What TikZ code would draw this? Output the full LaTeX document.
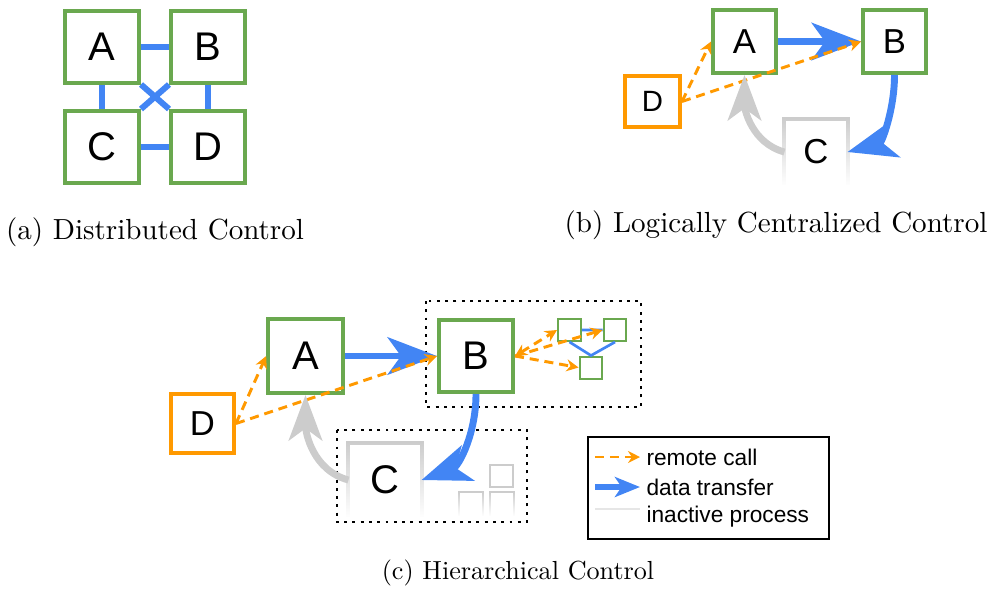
\documentclass[tikz,border=0pt]{standalone}
\usepackage{fontspec}
\setsansfont{Liberation Sans}
\usetikzlibrary{arrows.meta,fadings}
\definecolor{boxgreen}{RGB}{106,168,79}
\definecolor{flowblue}{RGB}{66,133,244}
\definecolor{callorange}{RGB}{255,153,0}
\definecolor{idlegray}{RGB}{204,204,204}
\tikzfading[name=fadedown, top color=transparent!0, middle color=transparent!25, bottom color=transparent!100]
\tikzset{
  calltip/.tip={Stealth[length=4.5pt,width=4.5pt]},
  box/.style={fill=white, inner sep=0pt},
  sz/.style 2 args={minimum width=#1, minimum height=#2},
  fs/.style={font=\sffamily\fontsize{#1}{#1}\selectfont},
  proc/.style={box, draw=boxgreen, line width=1.5pt},
  caller/.style={box, draw=callorange, line width=1.5pt},
  idle/.style={inner sep=0pt},
  tiny/.style={draw=boxgreen, line width=0.75pt, sz={8.6pt}{8.25pt}, inner sep=0pt},
  tinyidle/.style={draw=idlegray, line width=0.75pt, sz={8.6pt}{8.25pt}, inner sep=0pt},
  link/.style={draw=flowblue, line width=2.25pt},
  datamove/.style={draw=flowblue, line width=2.6pt, -{Stealth[length=18.5pt,width=14pt,inset=5pt]}},
  inactive/.style={draw=idlegray, line width=2.6pt, -{Stealth[length=17pt,width=12.5pt,inset=4.5pt]}},
  call/.style={draw=callorange, line width=1.1pt, dash pattern=on 3.4pt off 2.2pt, -calltip},
  idleline/.style={draw=idlegray, line width=1.5pt, path fading=fadedown},
  group/.style={draw=black, line width=1.1pt, dash pattern=on 1.1pt off 2pt},
  caption/.style={font=\fontsize{#1}{12}\selectfont},
  keytext/.style={anchor=west, inner sep=0pt, font=\sffamily\fontsize{8.5}{10}\selectfont}
}
% open box of an inactive process
\newcommand{\openbox}[2][idleline]{\draw[#1] (#2.south west) -- (#2.north west) -- (#2.north east) -- (#2.south east);}
\begin{document}
\begin{tikzpicture}[x=0.375pt, y=-0.375pt]
  \useasboundingbox (0,0) rectangle (987,588);

  % (a)
  \node[proc, sz={27.75pt}{27pt}, fs=15] (a1) at (102,46.5) {A};
  \node[proc, sz={27.75pt}{27pt}, fs=15] (a2) at (208,46.5) {B};
  \node[proc, sz={27.75pt}{27pt}, fs=15] (a3) at (102,147) {C};
  \node[proc, sz={27.75pt}{27pt}, fs=15] (a4) at (208,147) {D};
  \draw[link] (a1) -- (a2) (a3) -- (a4) (a1) -- (a3) (a2) -- (a4);
  \draw[link] (a1.south east) -- (a4.north west) (a2.south west) -- (a3.north east);
  \node[caption=10.9] (capa) at (155,232) {(a) Distributed Control};

  % (b)
  \node[proc, sz={23.6pt}{23.6pt}, fs=13] (bA) at (744.5,41.5) {A};
  \node[proc, sz={23.6pt}{23.6pt}, fs=13] (bB) at (894.5,41.5) {B};
  \node[caller, sz={20.6pt}{19pt}, fs=11] (bD) at (652.5,101.5) {D};
  \node[idle, sz={23.25pt}{24pt}, fs=13] (bC) at (816,152) {C};
  \openbox[idleline, line width=1.5pt]{bC}
  \draw[datamove] (bA) -- (bB);
  \draw[call] (bD.east) -- (bA.west);
  \draw[call] (bD.east) -- (bB.west);
  \draw[datamove] (bB.south) to[out=-90, in=15] (bC.east);
  \draw[inactive] (bC.west) to[out=165, in=-90] (bA.south);
  \node[caption=10.9] (capb) at (776,225) {(b) Logically Centralized Control};

  % (c)
  \draw[group] (426,301) rectangle (641,407);
  \draw[group] (337,430) rectangle (527,522);
  \node[proc, sz={28pt}{27.75pt}, fs=15] (cA) at (305.5,356) {A};
  \node[proc, sz={27.75pt}{27pt}, fs=15] (cB) at (476,356) {B};
  \node[caller, sz={23.6pt}{22.1pt}, fs=13] (cD) at (202.5,423.5) {D};
  \node[idle, sz={27pt}{27pt}, fs=15] (cC) at (385,480) {C};
  \openbox{cC}
  \node[tiny] (s1) at (569.5,330) {};
  \node[tiny] (s2) at (615,330) {};
  \node[tiny] (s3) at (591,367.5) {};
  \node[tinyidle] (g1) at (501.5,476) {};
  \node[idle, sz={8.6pt}{8.25pt}] (g2) at (471,504) {};
  \node[idle, sz={8.6pt}{8.25pt}] (g3) at (501.5,504) {};
  \openbox[idleline, line width=0.75pt]{g2}
  \openbox[idleline, line width=0.75pt]{g3}
  \draw[link, line width=1pt] (s1) -- (s2) (s1.south) -- (s3.north) -- (s2.south);
  \draw[datamove] (cA) -- (cB);
  \draw[call] (cD.east) -- (cA.west);
  \draw[call] (cD.east) -- (cB.west);
  \draw[call, calltip-calltip] (cB.east) -- (s1.west);
  \draw[call] (cB.east) -- (s2.west);
  \draw[call] (cB.east) -- (s3.west);
  \draw[datamove] (cB.south) to[out=-90, in=20] (cC.east);
  \draw[inactive] (cC.west) to[out=165, in=-90] (cA.south);

  % legend
  \node[draw, line width=0.8pt, sz={90.4pt}{38.25pt}] (key) at (708.5,488) {};
  \coordinate (k1a) at (595,457); \coordinate (k1b) at (640,457);
  \coordinate (k2a) at (595,487); \coordinate (k2b) at (640,487);
  \coordinate (k3a) at (595,509); \coordinate (k3b) at (640,509);
  \draw[call] (k1a) -- (k1b);
  \draw[link, -{Stealth[length=9.4pt,width=7.5pt,inset=2.5pt]}] (k2a) -- (k2b);
  \draw[draw=idlegray!50, line width=0.75pt] (k3a) -- (k3b);
  \node[keytext] (t1) at (646,457) {remote call};
  \node[keytext] (t2) at (646,487) {data transfer};
  \node[keytext] (t3) at (646,517) {inactive process};
  \node[caption=9.8] (capc) at (518,573) {(c) Hierarchical Control};
\end{tikzpicture}
\end{document}
